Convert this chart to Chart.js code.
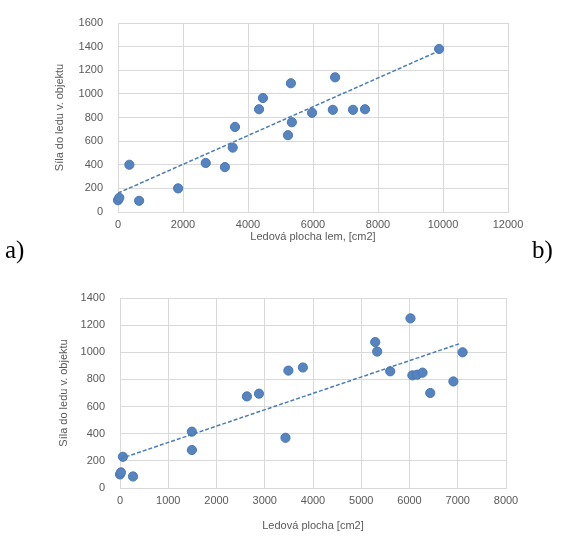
<!DOCTYPE html>
<html>
<head>
<meta charset="utf-8">
<script src="https://cdn.jsdelivr.net/npm/chart.js@4.4.1/dist/chart.umd.min.js"></script>
<style>
  html, body { margin: 0; padding: 0; background: #fff; }
  body { width: 563px; height: 536px; position: relative; overflow: hidden; }
  .box { position: absolute; left: 0; width: 563px; }
  .lbl { position: absolute; font-family: "Liberation Serif", "DejaVu Serif", serif; font-size: 25px; color: #000; line-height: 1; }
</style>
</head>
<body>
<div class="box" style="top:0;height:250px"><canvas id="chartA" width="563" height="250"></canvas></div>
<div class="box" style="top:270px;height:266px"><canvas id="chartB" width="563" height="266"></canvas></div>
<div class="lbl" style="left:5px;top:237px">a)</div>
<div class="lbl" style="left:532px;top:237px">b)</div>
<script>
// chart a)
const aX = [0, 40, 350, 650, 1850, 2700, 3290, 3530, 3600, 4340, 4460, 5230, 5320, 5350, 5970, 6610, 6680, 7230, 7600, 9880];
const aY = [100, 120, 400, 95, 200, 415, 380, 545, 720, 870, 965, 650, 1090, 760, 840, 865, 1140, 865, 870, 1380];
const aTrendX = [0, 9850];
const aTrendY = [160, 1360];
const aXTicks = [0, 2000, 4000, 6000, 8000, 10000, 12000];
const aYTicks = [0, 200, 400, 600, 800, 1000, 1200, 1400, 1600];

// chart b)
const bX = [0, 20, 60, 270, 1490, 1490, 2630, 2880, 3430, 3490, 3790, 5290, 5330, 5600, 6020, 6060, 6160, 6270, 6430, 6910, 7100];
const bY = [100, 115, 230, 85, 415, 280, 675, 695, 370, 865, 888, 1075, 1005, 860, 1250, 830, 835, 850, 700, 785, 1000];
const bTrendX = [0, 7050];
const bTrendY = [215, 1065];
const bXTicks = [0, 1000, 2000, 3000, 4000, 5000, 6000, 7000, 8000];
const bYTicks = [0, 200, 400, 600, 800, 1000, 1200, 1400];

const yTitleA = "Síla do ledu v. objektu";
const xTitleA = "Ledová plocha lem, [cm2]";
const yTitleB = "Síla do ledu v. objektu";
const xTitleB = "Ledová plocha [cm2]";

const FONT = "'Liberation Sans', Arial, sans-serif";
const GRID = "#d9d9d9";
const TXT = "#595959";

function pts(xs, ys) {
  return xs.map((x, i) => ({ x, y: ys[i] }));
}

function fixTicks(list) {
  return (scale) => { scale.ticks = list.map((v) => ({ value: v })); };
}

function makeChart(id, o) {
  const ctx = document.getElementById(id).getContext("2d");
  return new Chart(ctx, {
    type: "scatter",
    data: {
      datasets: [
        {
          data: pts(o.xs, o.ys),
          backgroundColor: "#5684c0",
          borderColor: "#4a78b2",
          borderWidth: 1,
          pointRadius: 4.6,
          clip: false,
          order: 2,
        },
        {
          type: "line",
          data: pts(o.tx, o.ty),
          borderColor: "#4a7cb8",
          borderWidth: 1.5,
          borderDash: [4, 2],
          pointRadius: 0,
          fill: false,
          order: 1,
        },
      ],
    },
    options: {
      responsive: false,
      animation: false,
      events: [],
      layout: { padding: { left: 48, right: o.padRight, top: o.padTop, bottom: 0 } },
      plugins: { legend: { display: false }, tooltip: { enabled: false } },
      scales: {
        x: {
          type: "linear",
          min: o.xTicks[0],
          max: o.xTicks[o.xTicks.length - 1],
          afterBuildTicks: fixTicks(o.xTicks),
          afterFit: (s) => { s.height = o.xAxisH; },
          grid: { color: GRID, drawTicks: false },
          border: { color: GRID },
          ticks: { padding: 6, color: TXT, font: { family: FONT, size: 11 }, callback: (v) => String(v), maxRotation: 0 },
          title: { display: true, text: o.xTitle, color: TXT, font: { family: FONT, size: 11 }, padding: { top: 0, bottom: o.xTitlePad } },
        },
        y: {
          type: "linear",
          min: o.yTicks[0],
          max: o.yTicks[o.yTicks.length - 1],
          afterBuildTicks: fixTicks(o.yTicks),
          afterFit: (s) => { s.width = o.yAxisW; },
          grid: { color: GRID, drawTicks: false },
          border: { color: GRID },
          ticks: { padding: 15, color: TXT, font: { family: FONT, size: 11 }, callback: (v) => String(v) },
          title: { display: true, text: o.yTitle, color: TXT, font: { family: FONT, size: 11 }, padding: { top: o.yTitlePad, bottom: 0 } },
        },
      },
    },
  });
}

makeChart("chartA", {
  xs: aX, ys: aY, tx: aTrendX, ty: aTrendY,
  xTicks: aXTicks, yTicks: aYTicks,
  xTitle: xTitleA, yTitle: yTitleA,
  padTop: 23, padRight: 55, xAxisH: 38, yAxisW: 70,
  xTitlePad: 6, yTitlePad: 5,
});

makeChart("chartB", {
  xs: bX, ys: bY, tx: bTrendX, ty: bTrendY,
  xTicks: bXTicks, yTicks: bYTicks,
  xTitle: xTitleB, yTitle: yTitleB,
  padTop: 28, padRight: 57, xAxisH: 48, yAxisW: 72,
  xTitlePad: 3, yTitlePad: 9,
});
</script>
</body>
</html>
